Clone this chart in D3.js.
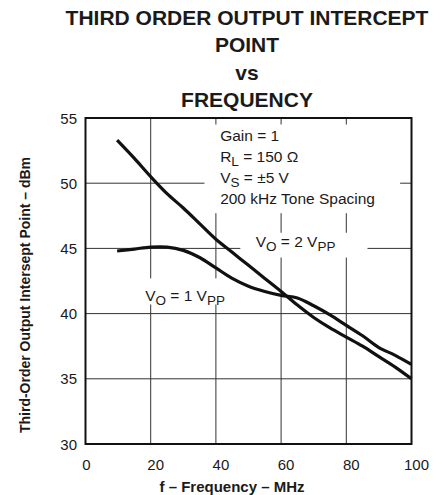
<!DOCTYPE html>
<html lang="en">
<head>
    <meta charset="UTF-8">
    <title>Third Order Output Intercept Point vs Frequency</title>
    <script src="https://d3js.org/d3.v7.min.js"></script>
    <style>
        body {
            margin: 0;
            background: #fff;
            font-family: 'Liberation Sans', Arial, sans-serif;
        }
        text { fill: #1a1a1a; }
    </style>
</head>
<body>
    <script>
        // values
        const freq = [9.7, 15, 20, 25, 30, 35, 40, 45, 50, 55, 60, 65, 70, 75, 80, 85, 90, 95, 100];
        const oip2Vpp = [53.3, 51.9, 50.5, 49.2, 48.1, 46.9, 45.7, 44.7, 43.7, 42.7, 41.7, 40.65, 39.7, 38.9, 38.2, 37.5, 36.7, 35.9, 35.0];
        const oip1Vpp = [44.8, 44.95, 45.1, 45.1, 44.85, 44.3, 43.5, 42.7, 42.1, 41.7, 41.4, 41.2, 40.6, 39.9, 39.1, 38.3, 37.4, 36.8, 36.1];
        const xTicks = [0, 20, 40, 60, 80, 100];
        const yTicks = [30, 35, 40, 45, 50, 55];
        const titleLines = ["THIRD ORDER OUTPUT INTERCEPT", "POINT", "vs", "FREQUENCY"];
        const notes = [
            [["Gain = 1", 0]],
            [["R", 0], ["L", 1], [" = 150 \u03A9", 0]],
            [["V", 0], ["S", 1], [" = \u00B15 V", 0]],
            [["200 kHz Tone Spacing", 0]]
        ];

        const width = 446;
        const height = 495;
        const plot = { left: 85.5, right: 411.5, top: 118, bottom: 444 };

        const svg = d3.select("body")
            .append("svg")
            .attr("width", width)
            .attr("height", height);

        const x = d3.scaleLinear().domain([0, 100]).range([plot.left, plot.right]);
        const y = d3.scaleLinear().domain([30, 55]).range([plot.bottom, plot.top]);

        // title
        svg.append("g").selectAll("text")
            .data(titleLines)
            .enter()
            .append("text")
            .attr("x", 247)
            .attr("y", (d, i) => 25 + i * 27.3)
            .attr("text-anchor", "middle")
            .style("font-size", "21px")
            .style("font-weight", "bold")
            .text(d => d);

        // grid
        const grid = svg.append("g").attr("stroke", "#333").attr("stroke-width", 1);
        grid.selectAll(".vx")
            .data(xTicks.slice(1, -1))
            .enter()
            .append("line")
            .attr("x1", d => x(d)).attr("x2", d => x(d))
            .attr("y1", plot.top).attr("y2", plot.bottom);
        grid.selectAll(".hy")
            .data(yTicks.slice(1, -1))
            .enter()
            .append("line")
            .attr("x1", plot.left).attr("x2", plot.right)
            .attr("y1", d => y(d)).attr("y2", d => y(d));

        // white boxes behind the notes
        svg.append("rect")
            .attr("x", x(36.5)).attr("y", y(54.5))
            .attr("width", x(96.5) - x(36.5)).attr("height", y(47.7) - y(54.5))
            .attr("fill", "#fff");
        svg.append("rect")
            .attr("x", x(47.5)).attr("y", y(46.2))
            .attr("width", x(86.5) - x(47.5)).attr("height", y(44.3) - y(46.2))
            .attr("fill", "#fff");
        svg.append("rect")
            .attr("x", x(16.8)).attr("y", y(42.7))
            .attr("width", x(46.5) - x(16.8)).attr("height", y(40.7) - y(42.7))
            .attr("fill", "#fff");

        // notes
        const noteText = svg.append("text")
            .attr("x", x(41.3))
            .attr("y", y(53.2))
            .style("font-size", "15.5px");
        notes.forEach((line, i) => {
            line.forEach((part, j) => {
                const t = noteText.append("tspan").text(part[0]);
                if (j === 0) t.attr("x", x(41.3)).attr("y", y(53.2) + i * 21);
                if (part[1]) t.attr("dy", 4).style("font-size", "13.5px");
                else if (j > 0 && line[j - 1][1]) t.attr("dy", -4);
            });
        });

        function voLabel(px, py, n) {
            const t = svg.append("text")
                .attr("x", px).attr("y", py)
                .style("font-size", "15.5px");
            t.append("tspan").text("V");
            t.append("tspan").attr("dy", 4).style("font-size", "13.5px").text("O");
            t.append("tspan").attr("dy", -4).text(" = " + n + " V");
            t.append("tspan").attr("dy", 4).style("font-size", "13.5px").text("PP");
        }
        voLabel(x(52.2), y(45.1), 2);
        voLabel(x(18.3), y(41.0), 1);

        // curves
        const line = d3.line()
            .x((d, i) => x(freq[i]))
            .y(d => y(d))
            .curve(d3.curveCatmullRom);
        svg.append("path")
            .attr("d", line(oip2Vpp))
            .attr("fill", "none")
            .attr("stroke", "#111")
            .attr("stroke-width", 3.2);
        svg.append("path")
            .attr("d", line(oip1Vpp))
            .attr("fill", "none")
            .attr("stroke", "#111")
            .attr("stroke-width", 3.2);

        // frame
        svg.append("rect")
            .attr("x", plot.left).attr("y", plot.top)
            .attr("width", plot.right - plot.left).attr("height", plot.bottom - plot.top)
            .attr("fill", "none")
            .attr("stroke", "#111")
            .attr("stroke-width", 2);

        // tick labels
        svg.append("g").selectAll("text")
            .data(xTicks)
            .enter()
            .append("text")
            .attr("x", d => x(d) + (d ? 5 : 1))
            .attr("y", 470)
            .attr("text-anchor", "middle")
            .style("font-size", "15px")
            .text(d => d);
        svg.append("g").selectAll("text")
            .data(yTicks)
            .enter()
            .append("text")
            .attr("x", 77)
            .attr("y", d => y(d) + 5.5)
            .attr("text-anchor", "end")
            .style("font-size", "15px")
            .text(d => d);

        // axis titles
        svg.append("text")
            .attr("x", 232)
            .attr("y", 491.5)
            .attr("text-anchor", "middle")
            .style("font-size", "15px")
            .style("font-weight", "bold")
            .text("f \u2013 Frequency \u2013 MHz");
        svg.append("text")
            .attr("transform", "translate(30,295) rotate(-90)")
            .attr("text-anchor", "middle")
            .style("font-size", "14px")
            .style("font-weight", "bold")
            .text("Third-Order Output Intersept Point \u2013 dBm");
    </script>
</body>
</html>
